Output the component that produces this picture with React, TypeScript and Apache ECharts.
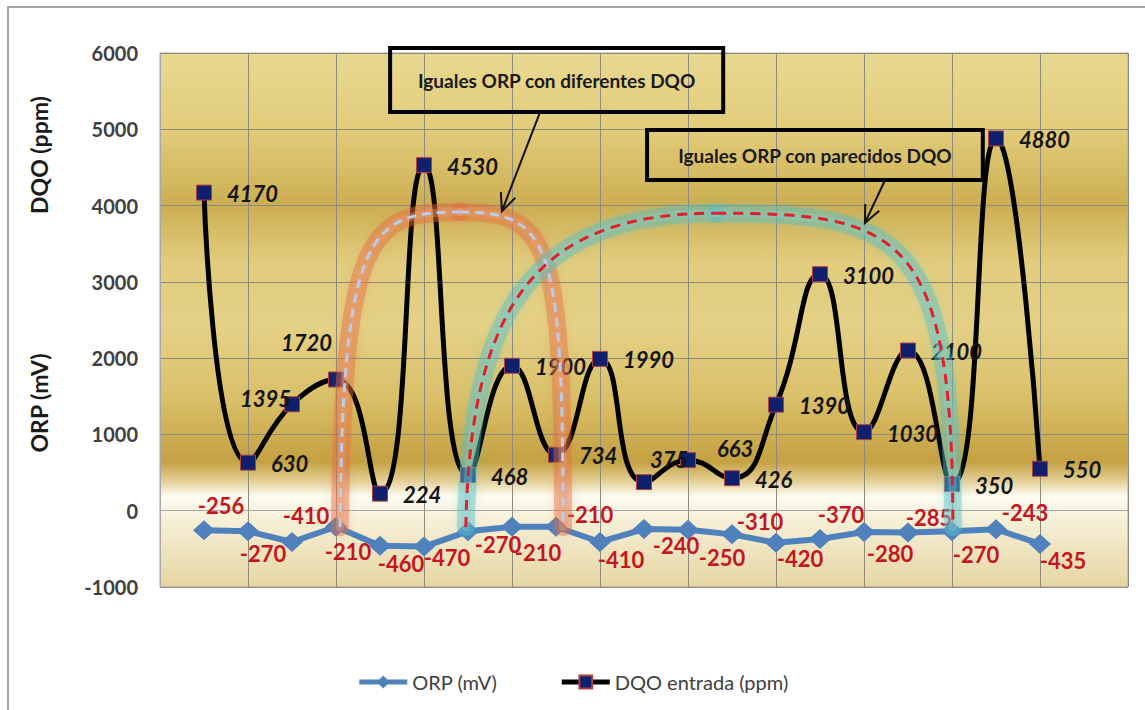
import React, { useEffect, useRef } from "react";
import * as echarts from "echarts";

// ---- data ----
const samplePositions = [1, 2, 3, 4, 5, 6, 7, 8, 9, 10, 11, 12, 13, 14, 15, 16, 17, 18, 19, 20];
const orpValues = [-256, -270, -410, -210, -460, -470, -270, -210, -210, -410, -240, -250, -310, -420, -370, -280, -285, -270, -243, -435];
const dqoValues = [4170, 630, 1395, 1720, 224, 4530, 468, 1900, 734, 1990, 375, 663, 426, 1390, 3100, 1030, 2100, 350, 4880, 550];
const seriesNames = ["ORP (mV)", "DQO entrada (ppm)"];
const axisTitles = ["DQO (ppm)", "ORP (mV)"];
const noteTexts = ["Iguales ORP con diferentes DQO", "Iguales ORP con parecidos DQO"];
const yMin = -1000;
const yMax = 6000;
const yStep = 1000;
const xMin = 0;
const xMax = 22;
const xStep = 2;

// label placement (style, not data)
const orpLabelOffsets: [number, number][] = [
  [17, -25], [15, 22], [14, -26], [12, 25], [21, 18], [23, 11], [30, 13], [26, 26], [34, -12], [21, 18],
  [32, 16], [34, 28], [28, -13], [24, 16], [21, -24], [26, 21], [21, -15], [24, 23], [29, -17], [23, 17],
];
const dqoLabelOverrides: Record<number, any> = {
  2: { position: "left", distance: 0, offset: [7, -6] },
  3: { position: "left", distance: 0, offset: [4, -37] },
  10: { offset: [-17, -23] },
  11: { offset: [6, -12] },
};

// annotation geometry, in data coordinates [x, y]
const arcDifferent = [
  [[4.09, -215], [4.16, 3680], [4.77, 3915], [6.82, 3915]],
  [[6.82, 3915], [8.86, 3915], [9.16, 3550], [9.16, -215]],
];
const arcSimilar = [
  [[6.95, -215], [7.05, 2760], [8.64, 3900], [12.64, 3900]],
  [[12.64, 3900], [16.82, 3900], [18.02, 3680], [18.02, -215]],
];
const noteBoxes = [
  [[5.23, 6065], [12.8, 5227]],
  [[11.07, 4990], [18.7, 4335]],
];
const noteArrows = [
  [[8.64, 5227], [7.77, 3927]],
  [[16.48, 4335], [16.02, 3771]],
];

const FONT = "Lato, 'Open Sans', 'DejaVu Sans', sans-serif";

export default function App() {
  const ref = useRef<HTMLDivElement>(null);

  useEffect(() => {
    document.body.style.margin = "0";
    const el = ref.current!;
    const chart = echarts.init(el, undefined, { renderer: "svg" });

    const orpData = samplePositions.map((x, i) => ({
      value: [x, orpValues[i]],
      label: { offset: orpLabelOffsets[i] },
    }));
    const dqoData = samplePositions.map((x, i) => ({
      value: [x, dqoValues[i]],
      label: dqoLabelOverrides[i] ? { ...dqoLabelOverrides[i] } : undefined,
    }));

    const bg = new echarts.graphic.LinearGradient(0, 0, 0, 1, [
      { offset: 0, color: "#e8d890" },
      { offset: 0.14, color: "#e2cd7b" },
      { offset: 0.285, color: "#ccae52" },
      { offset: 0.39, color: "#e1cc7d" },
      { offset: 0.51, color: "#e4d186" },
      { offset: 0.65, color: "#d9bf68" },
      { offset: 0.765, color: "#c4a142" },
      { offset: 0.8, color: "#e2cd92" },
      { offset: 0.83, color: "#fdfbf2" },
      { offset: 0.865, color: "#f8f2dc" },
      { offset: 1, color: "#e5d5a1" },
    ]);

    chart.setOption({
      animation: false,
      backgroundColor: "#ffffff",
      textStyle: { fontFamily: FONT },
      grid: {
        left: 160,
        right: 17,
        top: 53,
        bottom: 123,
        show: true,
        backgroundColor: bg,
        borderColor: "#a8a8a8",
        borderWidth: 1,
      },
      legend: {
        left: "center",
        top: 667,
        itemWidth: 48,
        itemHeight: 16,
        itemGap: 62,
        lineStyle: { width: 5 },
        textStyle: { fontSize: 20, color: "#404040", fontFamily: FONT },
        data: seriesNames,
      },
      xAxis: {
        type: "value",
        min: xMin,
        max: xMax,
        interval: xStep,
        axisLabel: { show: false },
        axisTick: { show: false },
        axisLine: { show: true, lineStyle: { color: "#a8a8a8" } },
        splitLine: { show: true, lineStyle: { color: "#8f8a7c", width: 1 } },
      },
      yAxis: {
        type: "value",
        min: yMin,
        max: yMax,
        interval: yStep,
        axisLabel: {
          fontSize: 20,
          fontWeight: "bold",
          color: "#404040",
          margin: 22,
          fontFamily: FONT,
          formatter: (v: number) => String(v),
        },
        axisTick: { show: false },
        axisLine: { show: true, lineStyle: { color: "#a8a8a8" } },
        splitLine: { show: true, lineStyle: { color: "#8f8a7c", width: 1 } },
      },
      series: [
        {
          name: seriesNames[0],
          type: "line",
          data: orpData,
          symbol: "diamond",
          symbolSize: [22, 20],
          itemStyle: { color: "#4f81bd" },
          lineStyle: { color: "#4f81bd", width: 6 },
          z: 3,
          label: {
            show: true,
            position: "inside",
            formatter: (p: any) => String(p.value[1]),
            fontSize: 22,
            fontWeight: "bold",
            color: "#c3161f",
            fontFamily: FONT,
          },
        },
        {
          name: seriesNames[1],
          type: "line",
          data: dqoData,
          smooth: 0.5,
          symbol: "rect",
          symbolSize: 15,
          itemStyle: { color: "#0f1f6b", borderColor: "#b04040", borderWidth: 1 },
          lineStyle: { color: "#000000", width: 5 },
          z: 4,
          label: {
            show: true,
            position: "right",
            distance: 15,
            offset: [0, 1],
            formatter: (p: any) => String(p.value[1]),
            fontSize: 22,
            fontWeight: "bold",
            fontStyle: "italic",
            color: "#151515",
            fontFamily: FONT,
          },
        },
      ],
    });

    const px = (p: number[]) => chart.convertToPixel({ gridIndex: 0 }, p) as number[];

    const curveEls = (segs: number[][][], glow: string, glowCore: string, dash: string, dashPattern: number[]) => {
      const out: any[] = [];
      const shapes = segs.map((s) => {
        const a = px(s[0]), b = px(s[1]), c = px(s[2]), d = px(s[3]);
        return { x1: a[0], y1: a[1], cpx1: b[0], cpy1: b[1], cpx2: c[0], cpy2: c[1], x2: d[0], y2: d[1] };
      });
      shapes.forEach((shape) => {
        out.push({
          type: "bezierCurve",
          shape,
          silent: true,
          z: 20,
          style: { fill: "none", stroke: glow, lineWidth: 18, lineCap: "round", shadowBlur: 10, shadowColor: glow },
        });
      });
      shapes.forEach((shape) => {
        out.push({
          type: "bezierCurve",
          shape,
          silent: true,
          z: 20,
          style: { fill: "none", stroke: glowCore, lineWidth: 8, lineCap: "round" },
        });
      });
      shapes.forEach((shape) => {
        out.push({
          type: "bezierCurve",
          shape,
          silent: true,
          z: 21,
          style: { fill: "none", stroke: dash, lineWidth: 3, lineDash: dashPattern },
        });
      });
      return out;
    };

    const boxEls = noteBoxes.flatMap((b, i) => {
      const p1 = px(b[0]);
      const p2 = px(b[1]);
      return [
        {
          type: "rect",
          silent: true,
          z: 22,
          shape: { x: p1[0], y: p1[1], width: p2[0] - p1[0], height: p2[1] - p1[1] },
          style: { fill: "rgba(0,0,0,0)", stroke: "#000000", lineWidth: 4 },
        },
        {
          type: "text",
          silent: true,
          z: 23,
          x: (p1[0] + p2[0]) / 2,
          y: (p1[1] + p2[1]) / 2,
          style: {
            text: noteTexts[i],
            align: "center",
            verticalAlign: "middle",
            fontSize: 19,
            fontWeight: "bold",
            fontFamily: FONT,
            fill: "#1a1a1a",
          },
        },
      ];
    });

    const arrowEls = noteArrows.flatMap((a) => {
      const s = px(a[0]);
      const e = px(a[1]);
      const ang = Math.atan2(e[1] - s[1], e[0] - s[0]);
      const L = 19;
      const spread = 0.42;
      const h1 = [e[0] - L * Math.cos(ang - spread), e[1] - L * Math.sin(ang - spread)];
      const h2 = [e[0] - L * Math.cos(ang + spread), e[1] - L * Math.sin(ang + spread)];
      return [
        {
          type: "line",
          silent: true,
          z: 22,
          shape: { x1: s[0], y1: s[1], x2: e[0], y2: e[1] },
          style: { stroke: "#111111", lineWidth: 2 },
        },
        {
          type: "polyline",
          silent: true,
          z: 22,
          shape: { points: [h1, e, h2] },
          style: { fill: "none", stroke: "#111111", lineWidth: 2 },
        },
      ];
    });

    chart.setOption({
      graphic: [
        {
          type: "rect",
          silent: true,
          z: 30,
          shape: { x: 8, y: 7, width: 1160, height: 730 },
          style: { fill: "rgba(0,0,0,0)", stroke: "#a6a6a6", lineWidth: 2 },
        },
        {
          type: "text",
          silent: true,
          x: 39,
          y: 155,
          rotation: Math.PI / 2,
          style: {
            text: axisTitles[0],
            align: "center",
            verticalAlign: "middle",
            fontSize: 23,
            fontWeight: "bold",
            fontFamily: FONT,
            fill: "#1a1a1a",
          },
        },
        {
          type: "text",
          silent: true,
          x: 39,
          y: 403,
          rotation: Math.PI / 2,
          style: {
            text: axisTitles[1],
            align: "center",
            verticalAlign: "middle",
            fontSize: 23,
            fontWeight: "bold",
            fontFamily: FONT,
            fill: "#1a1a1a",
          },
        },
        ...curveEls(arcDifferent, "rgba(226,108,62,0.42)", "rgba(236,160,130,0.35)", "#b9cdea", [9, 6]),
        ...curveEls(arcSimilar, "rgba(80,190,200,0.42)", "rgba(140,210,205,0.3)", "#e3202a", [10, 7]),
        ...boxEls,
        ...arrowEls,
      ],
    });

    return () => {
      chart.dispose();
    };
  }, []);

  return <div ref={ref} style={{ width: 1145, height: 710 }} />;
}
